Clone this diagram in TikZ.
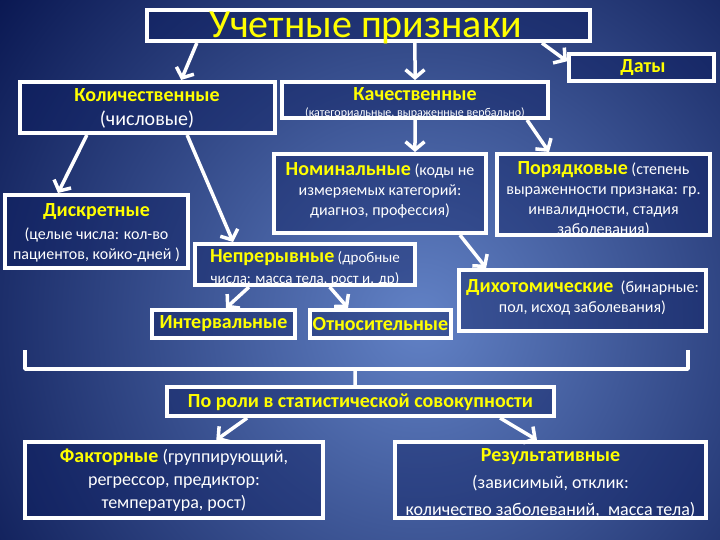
\documentclass[tikz,border=0pt]{standalone}
\usepackage{fontspec}
\setmainfont{Carlito}
\usetikzlibrary{arrows.meta,calc}
\definecolor{yel}{RGB}{255,255,0}
\definecolor{bgdark}{RGB}{10,24,82}
\definecolor{bglight}{RGB}{98,130,198}
\definecolor{boxfill}{RGB}{10,26,92}
\newcommand\tb[1]{{\bfseries\color{yel}\fontsize{20}{20}\selectfont #1}}
\begin{document}
\begin{tikzpicture}[x=1pt,y=-1pt,
  box/.style={draw=white,line width=4pt,fill=boxfill,fill opacity=0.42,inner sep=0pt},
  txt/.style={text=white,align=center,inner sep=0pt,font=\fontsize{16}{20}\selectfont},
  arr/.style={draw=white,line width=3.5pt,-{Straight Barb[length=8pt,width=19pt]}},
  brk/.style={draw=white,line width=3.5pt,line join=round}]
\useasboundingbox (0,0) rectangle (720,540);
\begin{scope}
  \clip (0,0) rectangle (720,540);
  \fill[bgdark] (0,0) rectangle (720,540);
  \shade[inner color=bglight,outer color=bgdark] (420,320) circle (530pt);
\end{scope}
% boxes
\node[box,minimum width=443pt,minimum height=31pt] (t) at (368.5,25.5) {};
\node[box,minimum width=145pt,minimum height=27pt] (d) at (641.5,67.5) {};
\node[box,minimum width=255pt,minimum height=51pt] (q) at (147.5,107.5) {};
\node[box,minimum width=266pt,minimum height=36pt] (k) at (415,100) {};
\node[box,minimum width=212pt,minimum height=79pt] (nom) at (380,193.5) {};
\node[box,minimum width=213pt,minimum height=81pt] (por) at (603.5,194.5) {};
\node[box,minimum width=183pt,minimum height=73pt] (dis) at (96.5,231.5) {};
\node[box,minimum width=220pt,minimum height=41pt] (nep) at (305,264.5) {};
\node[box,minimum width=143pt,minimum height=28pt] (int) at (223.5,324) {};
\node[box,minimum width=141pt,minimum height=28pt] (otn) at (380.5,324) {};
\node[box,minimum width=247pt,minimum height=61pt] (dih) at (582.5,300.5) {};
\node[box,minimum width=387pt,minimum height=29pt] (rol) at (360.5,401.5) {};
\node[box,minimum width=298pt,minimum height=76pt] (fak) at (174,480) {};
\node[box,minimum width=311pt,minimum height=76pt] (res) at (550.5,480) {};
% texts
\node[txt,text=yel,font=\fontsize{40}{44}\selectfont,anchor=base] (tT) at (366,38) {Учетные признаки};
\node[txt] (dT) at (643,68) {\tb{Даты}};
\node[txt,font=\fontsize{20}{24}\selectfont] (qT) at (147,108) {\tb{Количественные}\\(числовые)};
\node[txt,font=\fontsize{12}{14}\selectfont] (kT) at (415,103) {\tb{Качественные}\\[2.5pt](категориальные, выраженные вербально)};
\node[txt] (nomT) at (380,190) {\tb{Номинальные} (коды не\\измеряемых категорий:\\диагноз, профессия)};
\node[txt,font=\fontsize{16}{20}\selectfont] (porT) at (603.5,199) {\tb{Порядковые} (степень\\выраженности признака: гр.\\инвалидности, стадия\\заболевания)};
\node[txt] (disT) at (96.5,233) {\tb{Дискретные}\\[3pt](целые числа: кол-во\\пациентов, койко-дней )};
\node[txt,font=\fontsize{15}{21}\selectfont] (nepT) at (305,267.5) {\tb{Непрерывные} (дробные\\числа: масса тела, рост и. др)};
\node[txt] (intT) at (223.5,324) {\tb{Интервальные}};
\node[txt] (otnT) at (380.5,324) {\tb{Относительные}};
\node[txt] (dihT) at (582.5,297.5) {\tb{Дихотомические}\ \ (бинарные:\\пол, исход заболевания)};
\node[txt] (rolT) at (360.5,402) {\tb{По роли в статистической совокупности}};
\node[txt,font=\fontsize{18}{23}\selectfont] (fakT) at (174,480) {\tb{Факторные} (группирующий,\\регрессор, предиктор:\\температура, рост)};
\node[txt,font=\fontsize{18}{27}\selectfont] (resT) at (550.5,483) {\tb{Результативные}\\(зависимый, отклик:\\количество заболеваний,\ \ масса тела)};
% arrows
\draw[arr] ($(t.south west)!0.116!(t.south east)$) -- ($(q.north west)!0.63!(q.north east)$);
\draw[arr] ($(t.south west)!0.604!(t.south east)$) -- ($(k.north west)!0.5!(k.north east)$);
\draw[arr] ($(t.south west)!0.888!(t.south east)$) -- ($(d.north west)!0.3!(d.south west)$);
\draw[arr] ($(k.south west)!0.5!(k.south east)$) -- ($(nom.north west)!0.662!(nom.north east)$);
\draw[arr] ($(k.south west)!0.915!(k.south east)$) -- ($(por.north west)!0.249!(por.north east)$);
\draw[arr] ($(q.south west)!0.266!(q.south east)$) -- ($(dis.north west)!0.294!(dis.north east)$);
\draw[arr] ($(q.south west)!0.653!(q.south east)$) -- ($(nep.north west)!0.179!(nep.north east)$);
\draw[arr] ($(nom.south west)!0.87!(nom.south east)$) -- ($(dih.north west)!0.116!(dih.north east)$);
\draw[arr] ($(nep.south west)!0.25!(nep.south east)$) -- ($(int.north west)!0.517!(int.north east)$);
\draw[arr] ($(nep.south west)!0.61!(nep.south east)$) -- ($(otn.north west)!0.276!(otn.north east)$);
\draw[arr] ($(rol.south west)!0.21!(rol.south east)$) -- ($(fak.north west)!0.64!(fak.north east)$);
\draw[arr] ($(rol.south west)!0.857!(rol.south east)$) -- ($(res.north west)!0.457!(res.north east)$);
% bracket
\coordinate (bl) at (25,350);
\coordinate (br) at (688,350);
\coordinate (bm) at (355,369);
\draw[brk] (bl) -- (25,369) -- (688,369) -- (br);
\draw[brk] (bm) -- ($(rol.north west)!0.486!(rol.north east)$);
\end{tikzpicture}
\end{document}
